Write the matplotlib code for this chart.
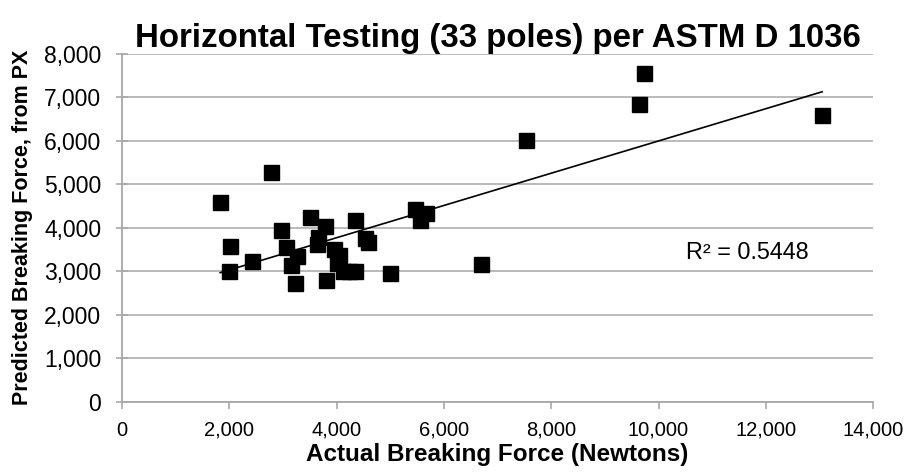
import matplotlib
matplotlib.use("Agg")
import matplotlib.pyplot as plt
from matplotlib.ticker import FuncFormatter, MultipleLocator
import numpy as np

actual = [2770, 1830, 2020, 2000, 2420, 2970, 3050, 3260, 3150, 3230,
          3500, 3780, 3650, 3630, 3800, 3950, 4050, 4000, 4120, 4230,
          4350, 4350, 4520, 4580, 4990, 5460, 5550, 5670, 6690, 7530,
          9630, 9720, 13050]
predicted = [5280, 4600, 3570, 3000, 3240, 3950, 3550, 3360, 3150, 2730,
             4240, 4050, 3790, 3620, 2790, 3520, 3370, 3180, 3000, 3000,
             3000, 4190, 3760, 3670, 2950, 4430, 4170, 4330, 3170, 6030,
             6840, 7560, 6600]
r2_label = "R² = 0.5448"
title = "Horizontal Testing (33 poles) per ASTM D 1036"
xlabel = "Actual Breaking Force (Newtons)"
ylabel = "Predicted Breaking Force, from PX"

plt.rcParams['font.family'] = ['Liberation Sans', 'DejaVu Sans']

fig = plt.figure(figsize=(9.13, 4.76), dpi=100)
ax = fig.add_axes([0.1337, 0.1565, 0.8226, 0.7300])

x = np.array(actual, dtype=float)
y = np.array(predicted, dtype=float)
ax.plot(x, y, linestyle='none', marker='s', markersize=10.8,
        color='black', zorder=3)

slope, intercept = np.polyfit(x, y, 1)
xs = np.array([x.min(), x.max()])
ax.plot(xs, slope * xs + intercept, color='black', linewidth=1.2, zorder=2)

ax.set_xlim(0, 14000)
ax.set_ylim(0, 8000)
ax.xaxis.set_major_locator(MultipleLocator(2000))
ax.yaxis.set_major_locator(MultipleLocator(1000))
fmt = FuncFormatter(lambda v, p: f"{int(v):,}")
ax.xaxis.set_major_formatter(fmt)
ax.yaxis.set_major_formatter(fmt)

ax.grid(axis='y', color='#b4b4b4', linewidth=1.3, zorder=0)
ax.set_axisbelow(True)
for s in ['top', 'right']:
    ax.spines[s].set_visible(False)
for s in ['left', 'bottom']:
    ax.spines[s].set_color('#a8a8a8')
    ax.spines[s].set_linewidth(1.3)

ax.tick_params(axis='x', direction='out', length=5, width=1.2,
               color='#a8a8a8', labelsize=14.5, pad=9)
ax.tick_params(axis='y', direction='inout', length=8, width=1.2,
               color='#a8a8a8', labelsize=16.5, pad=11)

ax.set_title(title, fontsize=23.8, fontweight='bold', pad=2)
ax.set_xlabel(xlabel, fontsize=17.5, fontweight='bold', labelpad=2)
ax.set_ylabel(ylabel, fontsize=15.5, fontweight='bold', labelpad=8)

ax.text(11650, 3430, r2_label, fontsize=16.8, ha='center', va='center')

fig.savefig("out.png", dpi=100)
